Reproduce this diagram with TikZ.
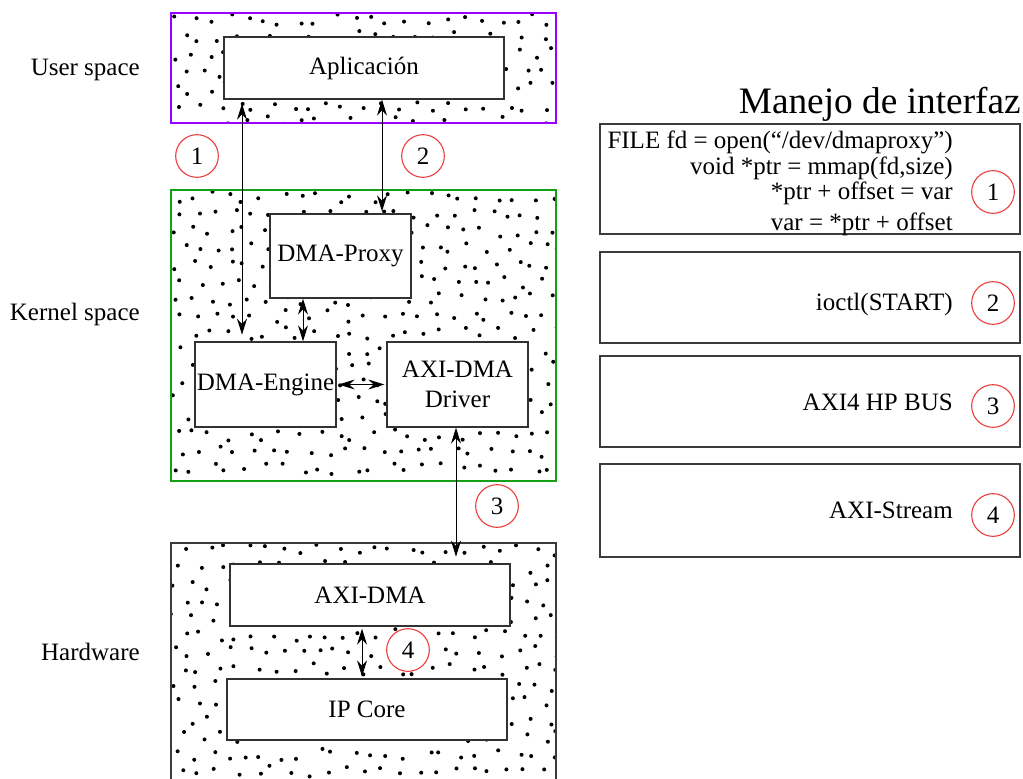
\documentclass[tikz,border=0pt]{standalone}
\usepackage{fontspec}
\setmainfont{Liberation Serif}
\usetikzlibrary{arrows.meta,calc}
\definecolor{userc}{RGB}{153,0,255}
\definecolor{kernc}{RGB}{20,160,20}
\definecolor{hwc}{RGB}{60,60,60}
\definecolor{boxc}{RGB}{50,50,50}
\definecolor{numc}{RGB}{235,55,55}
\def\pxu{0.75pt}
% stippled area: staggered grid of dots with hashed jitter, clipped to the rectangle
\newcommand\stipple[4]{%
  \begin{scope}
    \clip (#1,#2) rectangle (#3,#4);
    \pgfmathtruncatemacro\ny{(#4-#2)/17}
    \pgfmathtruncatemacro\nx{(#3-#1)/18+1}
    \foreach \rr in {0,...,\ny} {
      \pgfmathsetmacro\xoff{mod(\rr,2)*9}
      \foreach \cc in {0,...,\nx} {
        \pgfmathsetmacro\jx{12*(frac(abs(sin(\cc*91.7+\rr*53.3+#2*1.3)*731.1))-0.5)}
        \pgfmathsetmacro\jy{12*(frac(abs(cos(\cc*47.9+\rr*113.1+#2*0.7)*593.7))-0.5)}
        \fill ({#1+3+18*\cc+\xoff+\jx},{#2+7+17*\rr+\jy}) circle (1.5pt);
      }
    }
  \end{scope}}
\begin{document}
\begin{tikzpicture}[x=0.75pt,y=-0.75pt,
  every node/.style={font=\fontsize{18.75}{22}\selectfont, inner sep=0pt},
  outerbox/.style={draw, line width=1.5pt},
  inbox/.style={draw=boxc, fill=white, line width=1pt, align=center},
  rbox/.style={draw=hwc, line width=1.9pt},
  num/.style={circle, draw=numc, fill=white, line width=0.8pt, minimum size=32pt},
  biarrow/.style={arrows={Stealth[length=12pt,width=7.5pt,inset=4pt]-Stealth[length=12pt,width=7.5pt,inset=4pt]}, line width=0.75pt},
  title/.style={font=\fontsize{28}{32}\selectfont}]
\useasboundingbox (0,0) rectangle (1023,778);
\clip (0,0) rectangle (1023,778);

% stipple fill of the three layers
\stipple{171}{13}{556}{123}
\stipple{171}{190}{556}{481}
\stipple{171}{543}{556}{790}

% layers
\node[outerbox, draw=userc, minimum width=385*\pxu, minimum height=110*\pxu] (user) at (363.5,68) {};
\node[outerbox, draw=kernc, minimum width=385*\pxu, minimum height=291*\pxu] (kern) at (363.5,335.5) {};
\node[outerbox, draw=hwc, line width=1.9pt, minimum width=385*\pxu, minimum height=314*\pxu] (hw) at (363.5,700) {};

% layer names
\node[anchor=base east] (luser) at (140,75) {User space};
\node[anchor=base east] (lkern) at (140,320) {Kernel space};
\node[anchor=base east] (lhw) at (140,660) {Hardware};

% blocks
\node[inbox, minimum width=280*\pxu, minimum height=62*\pxu] (apl) at (364,68) {Aplicación};
\node[inbox, minimum width=141*\pxu, minimum height=84*\pxu] (proxy) at (340.5,256) {DMA-Proxy};
\node[inbox, minimum width=141*\pxu, minimum height=85*\pxu] (eng) at (265.5,384.5) {DMA-Engine};
\node[inbox, minimum width=141*\pxu, minimum height=85*\pxu] (drv) at (457.5,384.5) {AXI-DMA\\Driver};
\node[inbox, minimum width=280*\pxu, minimum height=62*\pxu] (axi) at (370,595) {AXI-DMA};
\node[inbox, minimum width=280*\pxu, minimum height=61*\pxu] (ip) at (367,709.5) {IP Core};

% connections
\coordinate (x1) at (242,0);
\coordinate (x2) at (382,0);
\coordinate (x5) at (303,0);
\coordinate (x3) at (456,0);
\coordinate (x4) at (362,0);
\draw[biarrow, shorten <=3pt, shorten >=5pt] (apl.south -| x1) -- (eng.north -| x1);
\draw[biarrow, shorten >=1.5pt] (apl.south -| x2) -- (proxy.north -| x2);
\draw[biarrow] (proxy.south -| x5) -- (eng.north -| x5);
\draw[biarrow, shorten <=1.5pt, shorten >=1.5pt] (eng.east) -- (eng.east -| drv.west);
\draw[biarrow, shorten >=5pt] (drv.south -| x3) -- (axi.north -| x3);
\draw[biarrow, shorten <=1.5pt, shorten >=1.5pt] (axi.south -| x4) -- (ip.north -| x4);

% interface markers
\node[num] (n1) at (197,156) {1};
\node[num] (n2) at (423,156) {2};
\node[num] (n3) at (497,506) {3};
\node[num] (n4) at (408,650) {4};

% interface legend
\node[title, anchor=base east] (ttl) at (1021,113) {Manejo de interfaz};
\node[rbox, minimum width=420*\pxu, minimum height=110*\pxu] (r1) at (810,179) {};
\node[rbox, minimum width=420*\pxu, minimum height=91*\pxu] (r2) at (810,297.5) {};
\node[rbox, minimum width=420*\pxu, minimum height=91*\pxu] (r3) at (810,401.5) {};
\node[rbox, minimum width=420*\pxu, minimum height=93*\pxu] (r4) at (810,510.5) {};

\node[anchor=base east] (t11) at (953,148) {FILE fd = open(“/dev/dmaproxy”)};
\node[anchor=base east] (t12) at (953,174) {void *ptr = mmap(fd,size)};
\node[anchor=base east] (t13) at (953,199) {*ptr + offset = var};
\node[anchor=base east] (t14) at (953,230) {var = *ptr + offset};
\node[anchor=base east] (t2) at (953,310) {ioctl(START)};
\node[anchor=base east] (t3) at (953,410) {AXI4 HP BUS};
\node[anchor=base east] (t4) at (953,518) {AXI-Stream};

\node[num] (m1) at (993,192) {1};
\node[num] (m2) at (993,303) {2};
\node[num] (m3) at (993,406) {3};
\node[num] (m4) at (993,515) {4};
\end{tikzpicture}
\end{document}
